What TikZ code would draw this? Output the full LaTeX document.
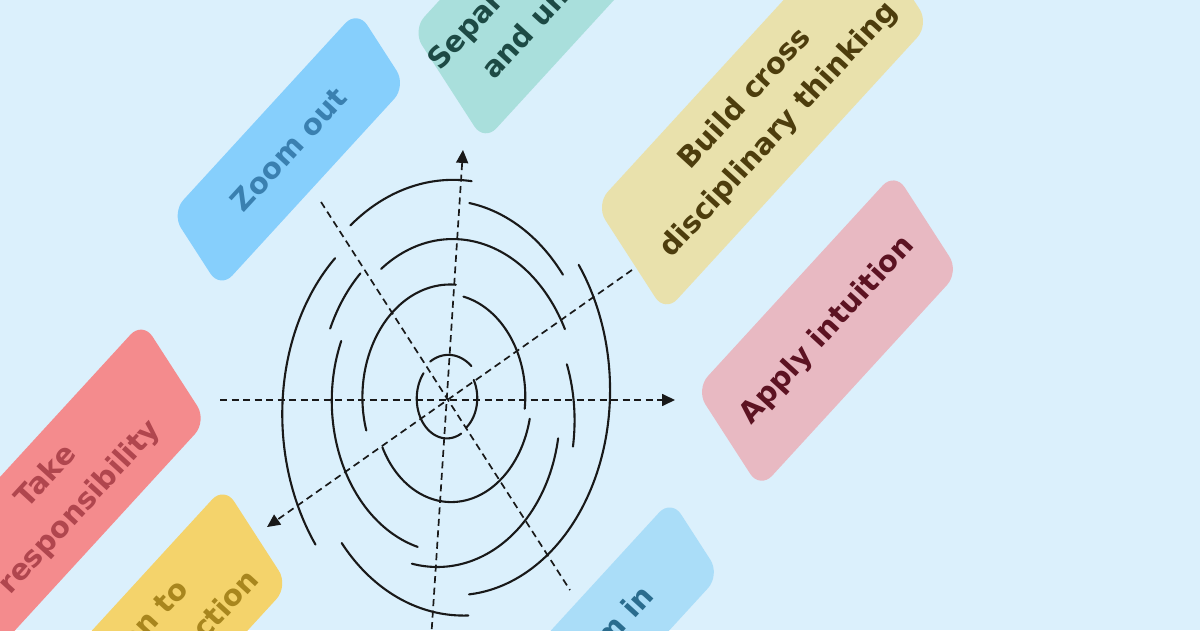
\documentclass[tikz,border=0pt]{standalone}
\usepackage{fontspec}
\setmainfont{DejaVu Sans}
\usetikzlibrary{arrows.meta}
\definecolor{bg}{HTML}{DBF0FC}
\definecolor{zoFill}{HTML}{86CFFC}\definecolor{zoText}{HTML}{3A80B0}
\definecolor{suFill}{HTML}{A9DFDC}\definecolor{suText}{HTML}{1D4A45}
\definecolor{bcFill}{HTML}{E9E1AC}\definecolor{bcText}{HTML}{4D3D0D}
\definecolor{aiFill}{HTML}{E8B9C2}\definecolor{aiText}{HTML}{5C1322}
\definecolor{trFill}{HTML}{F48B8D}\definecolor{trText}{HTML}{B0464E}
\definecolor{ocFill}{HTML}{F4D36B}\definecolor{ocText}{HTML}{A8861E}
\definecolor{ziFill}{HTML}{AADDF8}\definecolor{ziText}{HTML}{2A6C8E}
\tikzset{
  card/.style={rounded corners=18pt, inner sep=0pt, transform shape},
  cardtext/.style={inner sep=0pt, align=center, rotate=47.5,
    font=\fontsize{29pt}{45.5pt}\selectfont\bfseries},
  ring/.style={line width=2.1pt, line cap=round, black!90},
  guide/.style={line width=1.7pt, dash pattern=on 7pt off 4.5pt, black!90},
  tipend/.style={-{Triangle[length=13pt,width=12pt]}}
}
\newcommand\mazearc[4]{%
  \draw[ring] plot[domain=#1:#2, samples=60, smooth, variable=\t]
   ({(#3+(#4-#3)*(\t-(#1))/((#2)-(#1)))*cos(\t)},
    {(#3+(#4-#3)*(\t-(#1))/((#2)-(#1)))*sin(\t)});}
\begin{document}
\begin{tikzpicture}[x=1pt,y=1pt]
\useasboundingbox (0,0) rectangle (1200,630);
\clip (0,0) rectangle (1200,630);
\fill[bg] (0,0) rectangle (1200,630);
\begin{scope}[shift={(448,230)}, yscale=1.3]
  \begin{scope}[rotate=40]
    \node[card, fill=zoFill, minimum width=243pt, minimum height=76pt] (zoomout) at (2,250) {};
    \node[card, fill=ziFill, minimum width=243pt, minimum height=76pt] (zoomin) at (0.5,-240) {};
    \node[card, fill=aiFill, minimum width=260pt, minimum height=100pt] (apply) at (325,-203) {};
    \node[card, fill=bcFill, minimum width=345pt, minimum height=108pt] (build) at (382,-34) {};
    \node[card, fill=suFill, minimum width=197pt, minimum height=112pt] (separate) at (254,185) {};
    \node[card, fill=trFill, minimum width=290pt, minimum height=100pt] (take) at (-340,192.6) {};
    \node[card, fill=ocFill, minimum width=306pt, minimum height=100pt] (open) at (-367,43) {};
  \end{scope}
  \node[cardtext, text=zoText] (zoomoutT) at (zoomout.center) {Zoom out};
  \node[cardtext, text=ziText] (zoominT) at (zoomin.center) {Zoom in};
  \node[cardtext, text=aiText] (applyT) at (apply.center) {Apply intuition};
  \node[cardtext, text=bcText] (buildT) at (build.center) {Build cross\\disciplinary thinking};
  \node[cardtext, text=suText] (separateT) at (separate.center) {Separate out\\and unify};
  \node[cardtext, text=trText] (takeT) at (take.center) {Take\\responsibility};
  \node[cardtext, text=ocText] (openT) at (open.center) {Be open to\\course correction};
  % maze rings
  \mazearc{48}{121}{35}{34.5}
  \mazearc{140}{297}{32}{29}
  \mazearc{-48}{31}{28}{30}
  \mazearc{85}{196}{89}{85}
  \mazearc{-5}{79}{77}{81}
  \mazearc{-151}{-10}{75}{83}
  \mazearc{25}{123.5}{129}{121}
  \mazearc{-16}{13}{130}{122}
  \mazearc{132}{155}{131}{130}
  \mazearc{157}{255}{116}{117}
  \mazearc{-106}{-15}{131}{114}
  \mazearc{40}{82}{150}{153}
  \mazearc{82}{126}{170}{166}
  \mazearc{136}{220}{157}{173}
  \mazearc{226}{277}{153}{167}
  \mazearc{-82}{38.5}{151}{167}
  % guide lines
  \coordinate (hA) at (-228,0);  \coordinate (hB) at (227,0);
  \coordinate (vA) at (-17,-185); \coordinate (vB) at (15,192.3);
  \coordinate (dA) at (184,100);  \coordinate (dB) at (-181,-97.7);
  \coordinate (eA) at (-127,152.3); \coordinate (eB) at (122,-146.2);
  \draw[guide, tipend] (hA) -- (hB);
  \draw[guide, tipend] (vA) -- (vB);
  \draw[guide, tipend] (dA) -- (dB);
  \draw[guide] (eA) -- (eB);
\end{scope}
\end{tikzpicture}
\end{document}
